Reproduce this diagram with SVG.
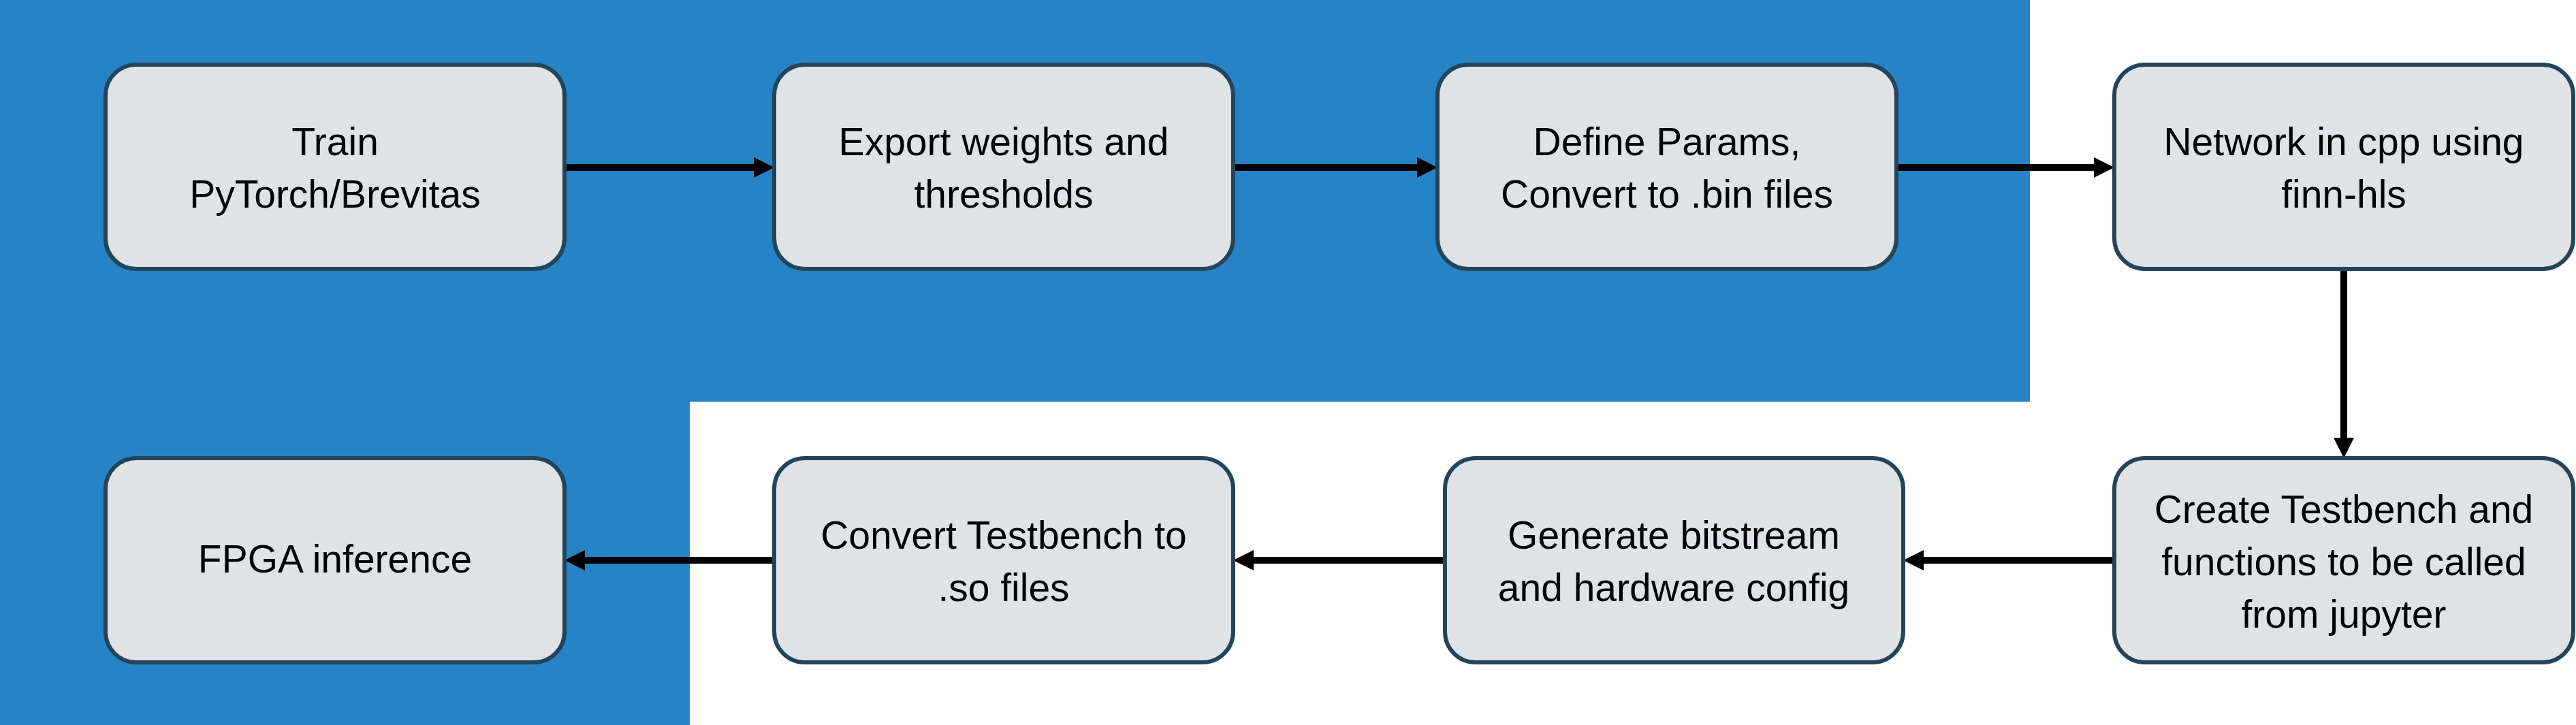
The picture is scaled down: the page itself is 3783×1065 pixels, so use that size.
<svg xmlns="http://www.w3.org/2000/svg" width="3783" height="1065" viewBox="0 0 3783 1065">
<style>
.node rect{fill:#DFE3E6;stroke:#24445A;stroke-width:6}
.node text{font-family:"Liberation Sans",Arial,sans-serif;font-size:57px;fill:#000;text-anchor:middle}
.conn line{stroke:#000;stroke-width:10;fill:none}
</style>
<defs>
<marker id="ah" markerUnits="userSpaceOnUse" markerWidth="30" markerHeight="30" refX="0" refY="15" orient="auto" overflow="visible">
<path d="M0,0 L30,15 L0,30 Z" fill="#000"/>
</marker>
</defs>
<rect width="3783" height="1065" fill="#FFFFFF"/>
<g id="background">
<rect x="0" y="0" width="2981" height="590" fill="#2683C6"/>
<rect x="0" y="590" width="1013" height="475" fill="#2683C6"/>
</g>
<g id="connectors" class="conn">
<line x1="829" y1="246" x2="1107" y2="246" marker-end="url(#ah)"/>
<line x1="1811" y1="246" x2="2081" y2="246" marker-end="url(#ah)"/>
<line x1="2785" y1="246" x2="3075" y2="246" marker-end="url(#ah)"/>
<line x1="3442" y1="395" x2="3442" y2="643" marker-end="url(#ah)"/>
<line x1="3105" y1="823" x2="2825" y2="823" marker-end="url(#ah)"/>
<line x1="2122" y1="823" x2="1841" y2="823" marker-end="url(#ah)"/>
<line x1="1137" y1="823" x2="859" y2="823" marker-end="url(#ah)"/>
</g>
<g id="n1" class="node">
<rect x="155" y="95" width="674" height="300" rx="45" ry="45"/>
<text x="492" y="228">Train</text>
<text x="492" y="305">PyTorch/Brevitas</text>
</g>
<g id="n2" class="node">
<rect x="1137" y="95" width="674" height="300" rx="45" ry="45"/>
<text x="1474" y="228">Export weights and</text>
<text x="1474" y="305">thresholds</text>
</g>
<g id="n3" class="node">
<rect x="2111" y="95" width="674" height="300" rx="45" ry="45"/>
<text x="2448" y="228">Define Params,</text>
<text x="2448" y="305">Convert to .bin files</text>
</g>
<g id="n4" class="node">
<rect x="3105" y="95" width="674" height="300" rx="45" ry="45"/>
<text x="3442" y="228">Network in cpp using</text>
<text x="3442" y="305">finn-hls</text>
</g>
<g id="n5" class="node">
<rect x="3105" y="673" width="674" height="300" rx="45" ry="45"/>
<text x="3442" y="768">Create Testbench and</text>
<text x="3442" y="845">functions to be called</text>
<text x="3442" y="922">from jupyter</text>
</g>
<g id="n6" class="node">
<rect x="2122" y="673" width="673" height="300" rx="45" ry="45"/>
<text x="2458" y="806">Generate bitstream</text>
<text x="2458" y="883">and hardware config</text>
</g>
<g id="n7" class="node">
<rect x="155" y="673" width="674" height="300" rx="45" ry="45"/>
<text x="492" y="841">FPGA inference</text>
</g>
<g id="n8" class="node">
<rect x="1137" y="673" width="674" height="300" rx="45" ry="45"/>
<text x="1474" y="806">Convert Testbench to</text>
<text x="1474" y="883">.so files</text>
</g>
</svg>
